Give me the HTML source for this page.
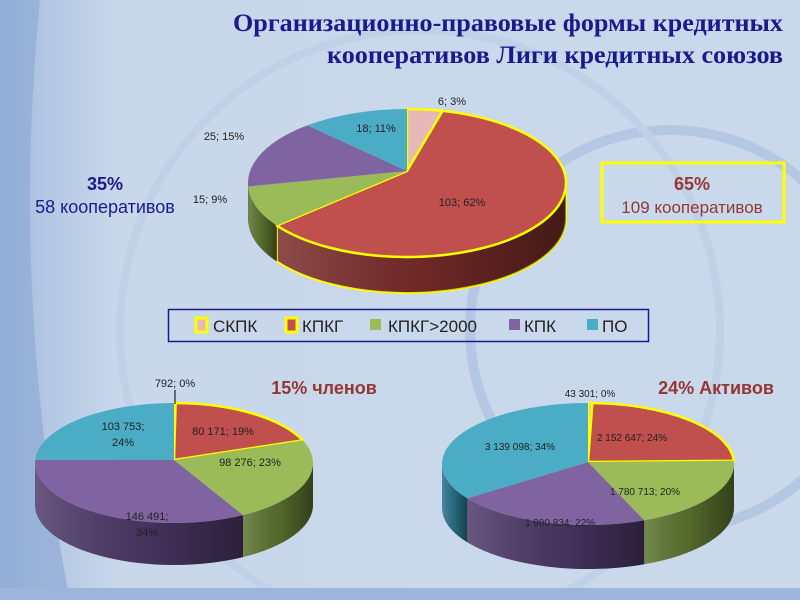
<!DOCTYPE html>
<html><head><meta charset="utf-8"><style>
body{margin:0;width:800px;height:600px;overflow:hidden;font-family:"Liberation Sans",sans-serif}
</style></head><body>
<svg id="s" width="800" height="600" xmlns="http://www.w3.org/2000/svg">
<defs>
<linearGradient id="bg" x1="0" x2="1" y1="0" y2="0">
<stop offset="0" stop-color="#9db8dc"/><stop offset="0.06" stop-color="#b4c8e4"/><stop offset="0.15" stop-color="#c9d7ea"/><stop offset="1" stop-color="#c9d8eb"/></linearGradient>
<linearGradient id="shade" x1="0" x2="1" y1="0" y2="0">
<stop offset="0" stop-color="#fff" stop-opacity="0.15"/><stop offset="0.5" stop-color="#000" stop-opacity="0.1"/><stop offset="1" stop-color="#000" stop-opacity="0.45"/></linearGradient>
</defs>
<rect width="800" height="600" fill="url(#bg)"/>
<path d="M0 0 L40 0 Q10 300 70 600 L0 600Z" fill="#8eabd4" opacity="0.7"/>
<circle cx="670" cy="330" r="200" fill="none" stroke="#b5c8e3" stroke-width="10"/>
<circle cx="420" cy="330" r="300" fill="none" stroke="#bfd0e7" stroke-width="8"/>
<rect x="0" y="588" width="800" height="12" fill="#9cb6da"/>
<g id="pies"></g>
<text x="783" y="31" text-anchor="end" font-family="Liberation Serif,serif" font-weight="bold" font-size="25" fill="#1a1a8c" textLength="550" lengthAdjust="spacingAndGlyphs">Организационно-правовые формы кредитных</text>
<text x="783" y="63" text-anchor="end" font-family="Liberation Serif,serif" font-weight="bold" font-size="25" fill="#1a1a8c" textLength="456" lengthAdjust="spacingAndGlyphs">кооперативов Лиги кредитных союзов</text>
<text x="105" y="190" text-anchor="middle" font-weight="bold" font-size="18" fill="#1a1a8c">35%</text>
<text x="105" y="213" text-anchor="middle" font-size="18" fill="#1a1a8c">58 кооперативов</text>
<rect x="602" y="163" width="182" height="59" fill="none" stroke="#ffff00" stroke-width="3"/>
<text x="692" y="190" text-anchor="middle" font-weight="bold" font-size="18" fill="#953735">65%</text>
<text x="692" y="213" text-anchor="middle" font-size="17" fill="#953735">109 кооперативов</text>
<rect x="168.5" y="309.5" width="480" height="32" fill="none" stroke="#1a1a8c" stroke-width="1.5"/>
<g font-size="17" fill="#222">
<rect x="196" y="318" width="11" height="14" fill="#e6b9b8" stroke="#ff0" stroke-width="3"/><text x="213" y="332">СКПК</text>
<rect x="286" y="318" width="11" height="14" fill="#c0504d" stroke="#ff0" stroke-width="3"/><text x="302" y="332">КПКГ</text>
<rect x="370" y="319" width="11" height="11" fill="#9bbb59"/><text x="388" y="332">КПКГ&gt;2000</text>
<rect x="509" y="319" width="11" height="11" fill="#8064a2"/><text x="524" y="332">КПК</text>
<rect x="587" y="319" width="11" height="11" fill="#4bacc6"/><text x="602" y="332">ПО</text>
</g>
<text x="324" y="394" text-anchor="middle" font-weight="bold" font-size="18" fill="#943634">15% членов</text>
<text x="716" y="394" text-anchor="middle" font-weight="bold" font-size="18" fill="#943634">24% Активов</text>
<g font-size="11" fill="#222" text-anchor="middle">
<text x="452" y="105">6; 3%</text>
<text x="224" y="140">25; 15%</text>
<text x="210" y="203">15; 9%</text>
<text x="376" y="132">18; 11%</text>
<text x="462" y="206">103; 62%</text>
<text x="175" y="387">792; 0%</text>
<line x1="175" y1="390" x2="175" y2="404" stroke="#000"/>
<text x="123" y="430">103 753;</text><text x="123" y="446">24%</text>
<text x="223" y="435">80 171; 19%</text>
<text x="250" y="466">98 276; 23%</text>
<text x="147" y="520">146 491;</text><text x="147" y="536">34%</text>
<text x="590" y="397" font-size="10">43 301; 0%</text>
<text x="632" y="441" font-size="10">2 152 647; 24%</text>
<text x="520" y="450" font-size="10">3 139 098; 34%</text>
<text x="645" y="495" font-size="10">1 780 713; 20%</text>
<text x="560" y="526" font-size="10">1 980 834; 22%</text>
</g>
</svg>
<script>
var NS="http://www.w3.org/2000/svg",G=document.getElementById("pies");
var C=["#e6b9b8","#c0504d","#9bbb59","#8064a2","#4bacc6"];
var D=["#b08a89","#7a2d2b","#5d7530","#4e3a6a","#2a7488"];
function el(t,a){var e=document.createElementNS(NS,t);for(var k in a)e.setAttribute(k,a[k]);G.appendChild(e);return e;}
function pie(cx,cy,rx,ry,d,vals,hl,ay){
 var tot=vals.reduce(function(a,b){return a+b},0),a=-Math.PI/2,sl=[];
 vals.forEach(function(v,i){var b=a+2*Math.PI*v/tot;sl.push([a,b,i]);a=b;});
 function P(t,y){return (cx+rx*Math.cos(t)).toFixed(2)+" "+(y+ry*Math.sin(t)).toFixed(2);}
 sl.forEach(function(s){
  var a1=s[0],b1=s[1];
  [[0,Math.PI],[2*Math.PI,3*Math.PI]].forEach(function(r){
   var x=Math.max(a1,r[0]),y=Math.min(b1,r[1]);
   if(y>x){var lg=(y-x)>Math.PI?1:0;
    var p="M"+P(x,cy)+" A"+rx+" "+ry+" 0 "+lg+" 1 "+P(y,cy)+" L"+P(y,cy+d)+" A"+rx+" "+ry+" 0 "+lg+" 0 "+P(x,cy+d)+"Z";
    el("path",{d:p,fill:D[s[2]],stroke:hl[s[2]]?"#ff0":"none","stroke-width":2});
    el("path",{d:p,fill:"url(#shade)"});}
  });
 });
 sl.forEach(function(s){
  if(s[1]-s[0]<1e-4)return;
  var lg=(s[1]-s[0])>Math.PI?1:0;
  el("path",{d:"M"+cx+" "+(cy+ay)+" L"+P(s[0],cy)+" A"+rx+" "+ry+" 0 "+lg+" 1 "+P(s[1],cy)+"Z",fill:C[s[2]],stroke:hl[s[2]]?"#ff0":"none","stroke-width":2.5,"stroke-linejoin":"round"});
 });
}
pie(407,183,159,74,36,[6,103,15,25,18],[1,1,0,0,0],-12);
pie(174,463,139,60,42,[792,80171,98276,146491,103753],[1,1,0,0,0],-3);
pie(588,464,146,61,44,[43301,2152647,1780713,1980834,3139098],[1,1,0,0,0],-2);
</script>
</body></html>
